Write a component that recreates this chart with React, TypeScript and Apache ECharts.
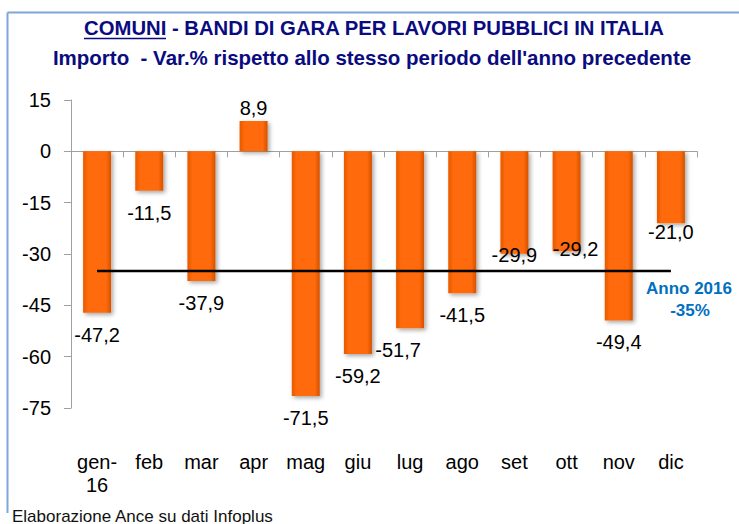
import React, { useEffect, useRef } from 'react';
import * as echarts from 'echarts';

const FONT = "'Liberation Sans', Arial, Helvetica, sans-serif";

const categories = ['gen-\n16', 'feb', 'mar', 'apr', 'mag', 'giu', 'lug', 'ago', 'set', 'ott', 'nov', 'dic'];
const values = [-47.2, -11.5, -37.9, 8.9, -71.5, -59.2, -51.7, -41.5, -29.9, -29.2, -49.4, -21.0];
const annualAverage = [-35, -35, -35, -35, -35, -35, -35, -35, -35, -35, -35, -35];
const yMin = -75;
const yMax = 15;
const yStep = 15;

const titleText = 'COMUNI - BANDI DI GARA PER LAVORI PUBBLICI IN ITALIA';
const subtitleText = "Importo  - Var.% rispetto allo stesso periodo dell'anno precedente";
const noteLines = ['Anno 2016', '-35%'];
const sourceText = 'Elaborazione Ance su dati Infoplus';

// label nudges (style only)
const labelNudge: Record<number, { distance?: number; dx?: number }> = {
  3: { distance: 3 },
  6: { dx: -12 },
  8: { distance: -9 },
  9: { distance: -12, dx: 9 },
  11: { distance: -1 },
};

export default function App() {
  const ref = useRef<HTMLDivElement>(null);
  useEffect(() => {
    document.body.style.margin = '0';
    const chart = echarts.init(ref.current!, null, { renderer: 'svg' });
    const barColor = new echarts.graphic.LinearGradient(0, 0, 1, 0, [
      { offset: 0, color: '#E65A00' },
      { offset: 0.18, color: '#FF6A0A' },
      { offset: 0.82, color: '#FF6A0A' },
      { offset: 1, color: '#D65200' },
    ]);
    const fmt = (v: number) => v.toFixed(1).replace('.', ',');
    const option: any = {
      animation: false,
      backgroundColor: '#ffffff',
      textStyle: { fontFamily: FONT },
      grid: { left: 71, right: 42, top: 100, height: 308, containLabel: false },
      xAxis: [
        {
          type: 'category',
          data: categories,
          position: 'bottom',
          axisLine: { show: true, onZero: true, lineStyle: { color: '#A0A0A0', width: 1 } },
          axisTick: { show: true, length: 6, lineStyle: { color: '#A0A0A0' } },
          axisLabel: { show: false },
          splitLine: { show: false },
        },
        {
          type: 'category',
          data: categories,
          position: 'bottom',
          axisLine: { show: false, onZero: false },
          axisTick: { show: false },
          axisLabel: { show: true, margin: 42, fontSize: 20, color: '#000', fontFamily: FONT, lineHeight: 23, interval: 0 },
          splitLine: { show: false },
        },
      ],
      yAxis: {
        type: 'value',
        min: yMin,
        max: yMax,
        interval: yStep,
        axisLine: { show: true, lineStyle: { color: '#A0A0A0', width: 1 } },
        axisTick: { show: true, length: 7, lineStyle: { color: '#A0A0A0' } },
        axisLabel: { fontSize: 20, color: '#000', margin: 20, fontFamily: FONT },
        splitLine: { show: false },
      },
      series: [
        {
          type: 'bar',
          xAxisIndex: 0,
          barWidth: 28,
          z: 2,
          itemStyle: {
            color: barColor,
            shadowBlur: 4,
            shadowColor: 'rgba(0,0,0,0.35)',
            shadowOffsetX: 2,
            shadowOffsetY: 2,
          },
          label: {
            show: true,
            fontSize: 20,
            color: '#000',
            fontFamily: FONT,
            formatter: (p: any) => fmt(p.value),
          },
          data: values.map((v, i) => {
            const n = labelNudge[i] || {};
            return {
              value: v,
              label: {
                position: v >= 0 ? 'top' : 'bottom',
                distance: n.distance !== undefined ? n.distance : 12,
                offset: [n.dx || 0, 0],
              },
            };
          }),
        },
        {
          type: 'line',
          xAxisIndex: 0,
          data: annualAverage,
          symbol: 'none',
          z: 5,
          lineStyle: { color: '#000', width: 2.5 },
          silent: true,
        },
      ],
      graphic: [
        { type: 'line', shape: { x1: 7.5, y1: 12.5, x2: 739, y2: 12.5 }, style: { stroke: '#7EA6DA', lineWidth: 2 } },
        { type: 'line', shape: { x1: 7.5, y1: 12.5, x2: 7.5, y2: 513 }, style: { stroke: '#7EA6DA', lineWidth: 2 } },
        {
          type: 'text', x: 374, y: 28,
          style: { text: titleText, font: `bold 20.3px ${FONT}`, fill: '#0B0B80', align: 'center', verticalAlign: 'middle', textAlign: 'center', textVerticalAlign: 'middle' },
        },
        { type: 'line', shape: { x1: 84, y1: 38.5, x2: 166, y2: 38.5 }, style: { stroke: '#0B0B80', lineWidth: 1.5 } },
        {
          type: 'text', x: 372, y: 57,
          style: { text: subtitleText, font: `bold 20.5px ${FONT}`, fill: '#0B0B80', align: 'center', verticalAlign: 'middle', textAlign: 'center', textVerticalAlign: 'middle' },
        },
        {
          type: 'text', x: 689, y: 288,
          style: { text: noteLines[0], font: `bold 17px ${FONT}`, fill: '#0070C0', align: 'center', verticalAlign: 'middle', textAlign: 'center', textVerticalAlign: 'middle' },
        },
        {
          type: 'text', x: 690, y: 310,
          style: { text: noteLines[1], font: `bold 17px ${FONT}`, fill: '#0070C0', align: 'center', verticalAlign: 'middle', textAlign: 'center', textVerticalAlign: 'middle' },
        },
        {
          type: 'text', x: 12, y: 516,
          style: { text: sourceText, font: `17px ${FONT}`, fill: '#111', align: 'left', verticalAlign: 'middle', textAlign: 'left', textVerticalAlign: 'middle' },
        },
      ],
    };
    chart.setOption(option);
    return () => chart.dispose();
  }, []);
  return <div ref={ref} style={{ width: 739, height: 524 }} />;
}
